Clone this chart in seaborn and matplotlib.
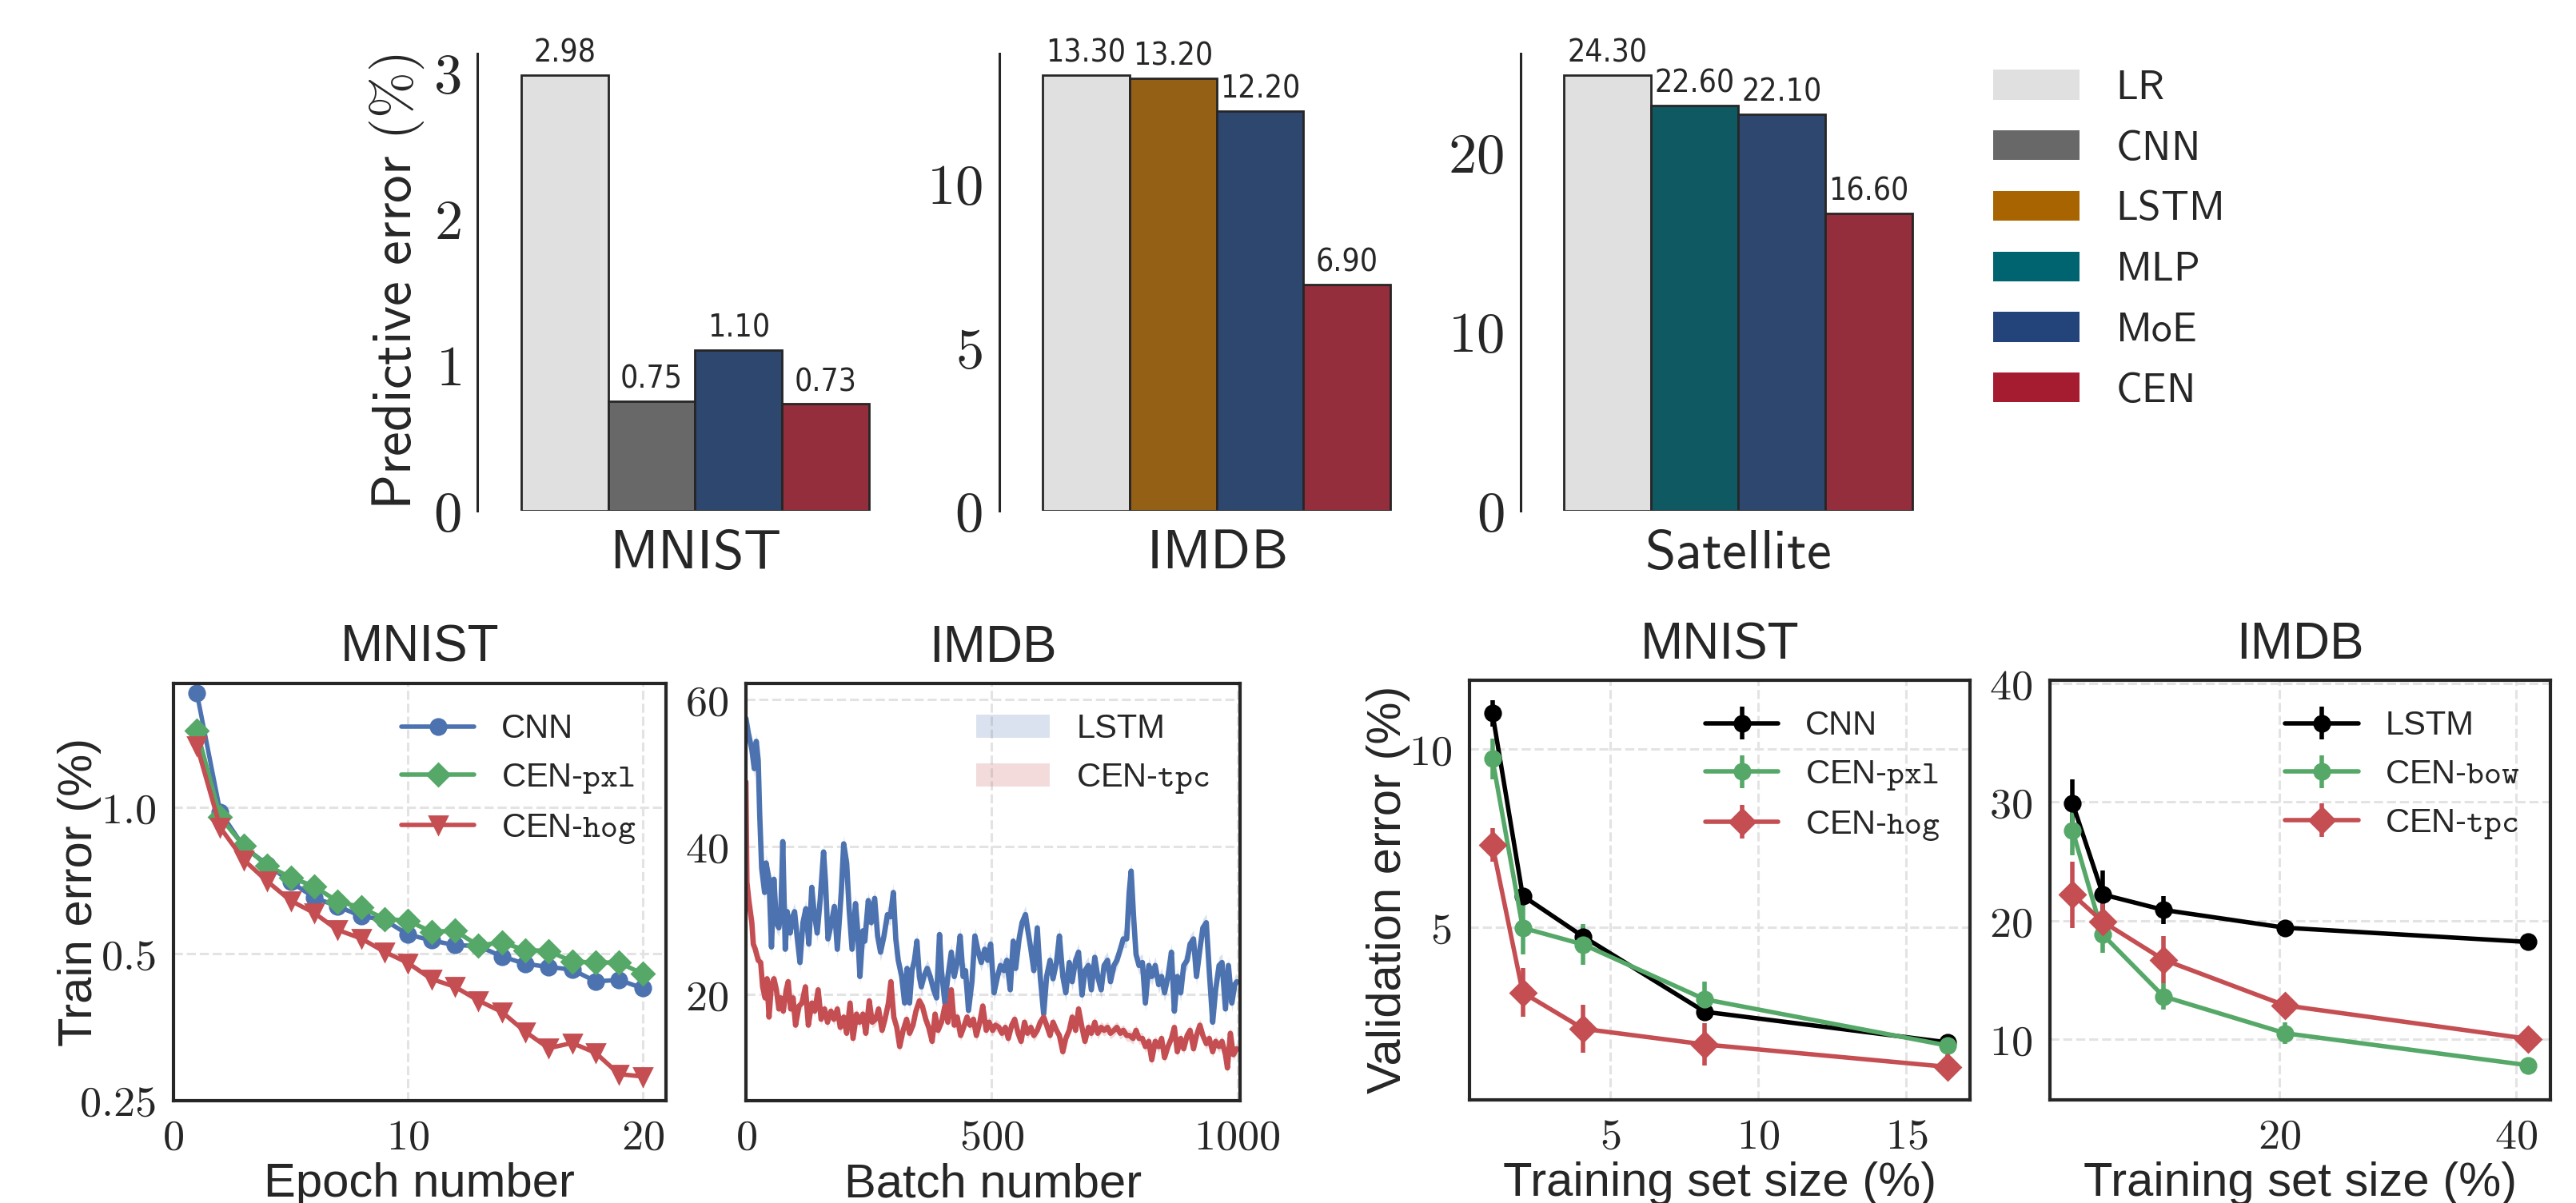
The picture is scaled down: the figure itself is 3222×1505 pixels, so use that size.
import matplotlib
matplotlib.use("Agg")
import matplotlib.pyplot as plt
import numpy as np
import pandas as pd
import seaborn as sns
from matplotlib.patches import Patch
from matplotlib.ticker import FixedLocator, FixedFormatter, NullLocator, FuncFormatter

# ---------------- data: top row (predictive error, %) ----------------
mnist_models = ["LR", "CNN", "MoE", "CEN"]
mnist_err = [2.98, 0.75, 1.10, 0.73]
imdb_models = ["LR", "LSTM", "MoE", "CEN"]
imdb_err = [13.30, 13.20, 12.20, 6.90]
sat_models = ["LR", "MLP", "MoE", "CEN"]
sat_err = [24.30, 22.60, 22.10, 16.60]
legend_models = ["LR", "CNN", "LSTM", "MLP", "MoE", "CEN"]
model_colors = ["#e0e0e0", "#686868", "#a86400", "#006470", "#22447a", "#a51c30"]

# ---------------- data: MNIST train error vs epoch ----------------
epochs = list(range(1, 21))
cnn_train = [1.72, 0.978, 0.83, 0.763, 0.703, 0.653, 0.626, 0.598, 0.587, 0.548,
             0.533, 0.521, 0.519, 0.494, 0.477, 0.470, 0.464, 0.439, 0.442, 0.425]
pxl_train = [1.44, 0.955, 0.833, 0.759, 0.718, 0.688, 0.641, 0.623, 0.590, 0.585,
             0.555, 0.558, 0.520, 0.528, 0.509, 0.507, 0.482, 0.480, 0.480, 0.455]
hog_train = [1.34, 0.909, 0.780, 0.705, 0.643, 0.607, 0.560, 0.538, 0.505, 0.479,
             0.444, 0.428, 0.401, 0.380, 0.346, 0.320, 0.328, 0.313, 0.283, 0.280]

# ---------------- data: IMDB train error vs batch ----------------
lstm_batch = [0, 5, 12, 17, 21, 25, 28, 32, 38, 41, 47, 52, 57, 62, 67, 71, 75, 80, 84, 90,
              95, 99, 104, 110, 116, 122, 128, 134, 138, 145, 151, 158, 162, 167, 174, 180, 186, 194, 199, 205,
              210, 216, 223, 227, 232, 238, 242, 249, 255, 262, 268, 274, 281, 288, 294, 300, 305, 310, 317, 323,
              328, 333, 338, 343, 348, 353, 357, 362, 369, 375, 382, 388, 394, 398, 405, 411, 418, 424, 430, 436,
              442, 447, 453, 460, 466, 473, 479, 486, 492, 498, 505, 512, 518, 525, 531, 538, 544, 549, 556, 562,
              569, 573, 580, 586, 593, 599, 606, 612, 619, 625, 632, 638, 645, 651, 658, 664, 671, 677, 684, 690,
              697, 703, 710, 716, 723, 729, 736, 742, 749, 755, 762, 768, 775, 780, 784, 789, 794, 800, 807, 813,
              820, 826, 833, 840, 846, 852, 859, 866, 872, 878, 885, 891, 898, 904, 911, 917, 924, 930, 937, 943,
              950, 956, 963, 969, 976, 982, 989, 995, 999]
lstm_batch_err = [57.4, 55.4, 53.2, 50.6, 54.3, 51.7, 44.4, 37.1, 33.8, 37.8,
                  35.6, 26.4, 35.6, 29.7, 29.0, 31.2, 40.7, 26.1, 31.2, 28.3,
                  30.5, 31.2, 27.9, 24.3, 29.7, 31.6, 26.8, 34.5, 31.6, 28.3,
                  32.7, 39.3, 35.2, 27.5, 29.7, 31.9, 26.1, 33.8, 40.4, 37.8,
                  31.6, 26.1, 32.3, 29.0, 22.4, 28.6, 27.2, 32.7, 29.7, 33.0,
                  27.9, 25.7, 27.9, 30.8, 30.5, 33.8, 27.5, 24.6, 22.4, 18.8,
                  23.5, 18.8, 23.2, 24.6, 27.2, 22.4, 21.0, 22.4, 23.5, 22.4,
                  20.6, 19.5, 28.1, 23.2, 18.8, 22.4, 25.7, 22.4, 24.3, 27.9,
                  22.4, 23.2, 17.8, 21.7, 27.9, 25.7, 24.3, 26.1, 24.6, 26.8,
                  20.2, 22.4, 23.9, 23.2, 24.6, 20.6, 27.2, 23.5, 27.5, 29.7,
                  30.8, 29.0, 26.1, 23.2, 29.0, 22.4, 17.3, 22.4, 24.6, 22.1,
                  24.3, 27.9, 22.4, 20.2, 24.3, 21.7, 24.6, 25.7, 19.9, 23.2,
                  23.9, 20.6, 25.0, 22.4, 20.6, 23.9, 24.6, 21.7, 23.9, 24.6,
                  26.1, 27.5, 27.5, 33.8, 36.7, 30.5, 25.4, 23.9, 24.3, 18.8,
                  23.9, 22.4, 23.9, 21.3, 22.4, 20.2, 22.4, 25.7, 17.7, 22.4,
                  20.2, 23.9, 24.6, 26.8, 27.5, 22.4, 26.1, 29.0, 29.7, 23.2,
                  16.2, 20.6, 23.9, 24.3, 18.0, 23.9, 18.8, 21.3, 21.7]
tpc_batch = [0, 2, 6, 12, 15, 19, 25, 30, 34, 39, 43, 47, 52, 57, 62, 67, 71, 76, 82, 86,
             91, 96, 101, 108, 114, 121, 127, 134, 140, 147, 153, 160, 166, 173, 179, 186, 192, 199, 205, 212,
             218, 225, 231, 238, 244, 251, 257, 264, 270, 277, 283, 290, 295, 301, 307, 313, 320, 327, 333, 340,
             346, 353, 359, 366, 372, 379, 385, 391, 398, 405, 411, 418, 424, 430, 437, 443, 450, 456, 463, 469,
             476, 482, 489, 495, 502, 508, 515, 521, 528, 534, 541, 547, 554, 560, 567, 573, 580, 586, 593, 599,
             606, 612, 619, 625, 632, 638, 645, 651, 658, 664, 671, 677, 684, 690, 697, 703, 710, 716, 723, 729,
             736, 742, 749, 755, 762, 768, 775, 781, 788, 794, 800, 807, 813, 820, 826, 833, 840, 846, 852, 859,
             866, 872, 878, 885, 891, 898, 904, 911, 917, 924, 930, 937, 943, 950, 956, 963, 969, 976, 980, 986,
             992, 999]
tpc_batch_err = [48.8, 35.2, 32.7, 29.7, 26.8, 26.1, 24.6, 24.3, 21.0, 19.5,
                 22.1, 16.9, 21.3, 22.1, 20.6, 18.0, 19.5, 17.7, 20.6, 21.7,
                 18.0, 19.5, 15.8, 18.4, 18.8, 21.0, 15.8, 18.8, 17.7, 20.6,
                 16.6, 18.0, 16.2, 17.7, 16.6, 18.0, 15.5, 16.9, 14.7, 18.8,
                 14.0, 17.3, 16.2, 17.3, 14.7, 19.1, 16.2, 16.6, 18.0, 15.1,
                 16.6, 18.8, 21.7, 16.9, 15.5, 12.9, 15.1, 16.6, 14.7, 15.8,
                 17.7, 19.1, 18.4, 16.6, 15.5, 13.6, 17.3, 15.1, 16.2, 18.4,
                 16.2, 20.6, 15.8, 16.9, 14.4, 15.5, 16.9, 15.8, 16.6, 14.4,
                 16.2, 18.4, 15.1, 16.2, 15.1, 15.8, 15.5, 14.7, 15.5, 14.0,
                 15.8, 16.6, 14.7, 13.6, 16.2, 14.7, 15.5, 14.4, 15.1, 16.2,
                 16.9, 15.8, 14.4, 16.2, 15.1, 14.4, 12.2, 14.0, 15.1, 16.9,
                 15.1, 18.0, 15.5, 13.6, 15.5, 14.7, 16.2, 14.7, 15.5, 15.1,
                 15.5, 14.7, 15.1, 15.5, 14.7, 15.1, 14.4, 14.4, 14.0, 15.1,
                 14.0, 14.0, 12.9, 13.6, 11.1, 13.6, 12.9, 14.0, 11.4, 12.9,
                 14.0, 15.5, 12.2, 14.0, 12.6, 14.4, 15.1, 12.6, 14.4, 15.8,
                 14.4, 13.3, 14.0, 12.2, 13.6, 12.9, 13.6, 11.8, 10.0, 14.7,
                 11.8, 12.6]
lstm_band = 1.2
tpc_band = 0.8

# ---------------- data: validation error vs training set size ----------------
mnist_sizes = [1.024, 2.048, 4.096, 8.192, 16.384]
cnn_val = [11.02, 5.88, 4.73, 2.62, 1.76]
cnn_val_sd = [0.37, 0.20, 0.30, 0.20, 0.15]
pxl_val = [9.73, 4.98, 4.51, 2.97, 1.67]
pxl_val_sd = [0.58, 0.74, 0.58, 0.50, 0.30]
hog_val = [7.31, 3.16, 2.14, 1.70, 1.07]
hog_val_sd = [0.48, 0.68, 0.68, 0.59, 0.34]

imdb_sizes = [2.56, 5.12, 10.24, 20.48, 40.96]
lstm_val = [29.9, 22.2, 20.9, 19.4, 18.2]
lstm_val_sd = [2.0, 2.0, 1.2, 0.3, 0.3]
bow_val = [27.6, 18.8, 13.6, 10.5, 7.8]
bow_val_sd = [2.1, 1.5, 1.1, 0.9, 0.4]
tpc_val = [22.2, 19.9, 16.7, 12.85, 10.03]
tpc_val_sd = [2.8, 1.6, 2.0, 0.9, 0.9]

# ---------------- style ----------------
sns.set_theme(style="white")
plt.rcParams["font.family"] = ["Liberation Sans", "DejaVu Sans"]
plt.rcParams["mathtext.fontset"] = "cm"
plt.rcParams["axes.edgecolor"] = "#262626"
plt.rcParams["text.color"] = "#262626"
plt.rcParams["xtick.color"] = "#262626"
plt.rcParams["ytick.color"] = "#262626"

BLUE, GREEN, RED = "#4c72b0", "#55a868", "#c44e52"
W, H = 3223, 1505
fig = plt.figure(figsize=(W / 200, H / 200), dpi=200)

def rect(x0, y0, x1, y1):
    return [x0 / W, 1 - y1 / H, (x1 - x0) / W, (y1 - y0) / H]

palette = dict(zip(legend_models, model_colors))
mathfmt = FuncFormatter(lambda v, p: "$%g$" % v)

# ---------------- top row: bar charts ----------------
top_specs = [("MNIST", mnist_models, mnist_err, [0, 1, 2, 3], 597.5),
             ("IMDB", imdb_models, imdb_err, [0, 5, 10], 1249.5),
             ("Satellite", sat_models, sat_err, [0, 10, 20], 1902)]
for i, (name, models, errs, yt, x0) in enumerate(top_specs):
    ax = fig.add_axes(rect(x0, 66.6, x0 + 544, 639))
    df = pd.DataFrame({"dataset": [name] * len(models), "model": models, "err": errs})
    sns.barplot(data=df, x="dataset", y="err", hue="model", hue_order=models,
                palette=palette, edgecolor="#262626", linewidth=1.0,
                legend=False, ax=ax)
    for cont, v in zip(ax.containers, errs):
        ax.bar_label(cont, labels=["%.2f" % v], padding=3, fontsize=14,
                     color="#262626", fontstretch="condensed",
                     family=["Liberation Sans Narrow", "DejaVu Sans"])
    ax.set_xlim(-0.5, 0.5)
    ax.set_ylim(0, max(errs) * 1.05)
    ax.set_yticks(yt)
    ax.yaxis.set_major_formatter(mathfmt)
    ax.set_xticks([0])
    ax.set_xticklabels([r"$\mathsf{%s}$" % name])
    ax.set_xlabel("")
    ax.tick_params(axis="y", length=0, pad=7.5, labelsize=25.5)
    ax.tick_params(axis="x", length=0, pad=8, labelsize=25)
    sns.despine(ax=ax, top=True, right=True, bottom=True, left=False)
    ax.spines["left"].set_linewidth(1.1)
    ax.spines["left"].set_color("#262626")
    if i == 0:
        ax.set_ylabel(r"$\mathsf{Predictive\ error\ (\%)}$", fontsize=25)
        ax.yaxis.set_label_coords(-0.119, 0.5)
    else:
        ax.set_ylabel("")

handles = [Patch(facecolor=c, edgecolor="none") for c in model_colors]
fig.legend(handles, [r"$\mathsf{%s}$" % m for m in legend_models],
           loc="upper left", bbox_to_anchor=(2493 / W, 1 - 86 / H),
           frameon=False, fontsize=18.5, handlelength=2.1, handleheight=0.74,
           handletextpad=0.87, labelspacing=0.52, borderpad=0, borderaxespad=0)

# ---------------- bottom row ----------------
def style_bottom(ax):
    ax.grid(True, ls="--", color="#e3e3e3", lw=1.1)
    ax.set_axisbelow(True)
    for s in ax.spines.values():
        s.set_visible(True)
        s.set_color("#262626")
        s.set_linewidth(1.5)
    ax.tick_params(length=0, pad=8, labelsize=19.5)

LEG = dict(loc="upper right", frameon=False, fontsize=15, handlelength=2.2,
           labelspacing=0.5, handletextpad=0.8)
XLPAD = 2

# (1) MNIST train error
ax1 = fig.add_axes(rect(216.8, 854.6, 833, 1376.6))
ax1.plot(epochs, cnn_train, color=BLUE, marker="o", ms=7, lw=2, label="CNN")
ax1.plot(epochs, pxl_train, color=GREEN, marker="D", ms=7, lw=2, label=r"CEN-$\mathtt{pxl}$")
ax1.plot(epochs, hog_train, color=RED, marker="v", ms=8, lw=2, label=r"CEN-$\mathtt{hog}$")
ax1.set_yscale("log")
ax1.set_ylim(0.25, 1.8)
ax1.set_xlim(0, 21)
ax1.yaxis.set_major_locator(FixedLocator([0.25, 0.5, 1.0]))
ax1.yaxis.set_major_formatter(FixedFormatter(["$0.25$", "$0.5$", "$1.0$"]))
ax1.yaxis.set_minor_locator(NullLocator())
ax1.set_xticks([0, 10, 20])
ax1.xaxis.set_major_formatter(mathfmt)
style_bottom(ax1)
ax1.set_title("MNIST", fontsize=23, pad=9.6)
ax1.set_xlabel("Epoch number", fontsize=21.5, labelpad=XLPAD)
ax1.set_ylabel("Train error (%)", fontsize=21.5)
ax1.yaxis.set_label_coords(-0.146, 0.5)
ax1.legend(**LEG)

# (2) IMDB train error vs batch
ax2 = fig.add_axes(rect(933, 854.6, 1550.6, 1376.6))
lb = np.array(lstm_batch_err)
tb = np.array(tpc_batch_err)
h1 = ax2.fill_between(lstm_batch, lb - lstm_band, lb + lstm_band, color=BLUE, alpha=0.2, lw=0, label="LSTM")
ax2.plot(lstm_batch, lstm_batch_err, color=BLUE, lw=2.4)
h2 = ax2.fill_between(tpc_batch, tb - tpc_band, tb + tpc_band, color=RED, alpha=0.2, lw=0, label=r"CEN-$\mathtt{tpc}$")
ax2.plot(tpc_batch, tpc_batch_err, color=RED, lw=2.4)
ax2.set_xlim(0, 1005)
ax2.set_ylim(5.6, 62.2)
ax2.set_xticks([0, 500, 1000])
ax2.set_yticks([20, 40, 60])
ax2.xaxis.set_major_formatter(mathfmt)
ax2.yaxis.set_major_formatter(mathfmt)
style_bottom(ax2)
ax2.set_title("IMDB", fontsize=23, pad=9.6)
ax2.set_xlabel("Batch number", fontsize=21.5, labelpad=XLPAD)
ax2.legend(handles=[h1, h2], **LEG)

# (3) MNIST validation error
ax3 = fig.add_axes(rect(1838, 850.7, 2464, 1375.6))
ax3.errorbar(mnist_sizes, cnn_val, yerr=cnn_val_sd, color="black", marker="o", ms=7, lw=2, elinewidth=2, capsize=0, label="CNN")
ax3.errorbar(mnist_sizes, pxl_val, yerr=pxl_val_sd, color=GREEN, marker="o", ms=7, lw=2, elinewidth=2, capsize=0, label=r"CEN-$\mathtt{pxl}$")
ax3.errorbar(mnist_sizes, hog_val, yerr=hog_val_sd, color=RED, marker="D", ms=8, lw=2, elinewidth=2, capsize=0, label=r"CEN-$\mathtt{hog}$")
ax3.set_xlim(0.25, 17.15)
ax3.set_ylim(0.15, 11.95)
ax3.set_xticks([5, 10, 15])
ax3.set_yticks([5, 10])
ax3.xaxis.set_major_formatter(mathfmt)
ax3.yaxis.set_major_formatter(mathfmt)
style_bottom(ax3)
ax3.set_title("MNIST", fontsize=23, pad=9.6)
ax3.set_xlabel("Training set size (%)", fontsize=21.5, labelpad=XLPAD)
ax3.set_ylabel("Validation error (%)", fontsize=21.5)
ax3.yaxis.set_label_coords(-0.118, 0.5)
ax3.legend(**LEG)

# (4) IMDB validation error
ax4 = fig.add_axes(rect(2564, 850.7, 3189.6, 1375.6))
ax4.errorbar(imdb_sizes, lstm_val, yerr=lstm_val_sd, color="black", marker="o", ms=7, lw=2, elinewidth=2, capsize=0, label="LSTM")
ax4.errorbar(imdb_sizes, bow_val, yerr=bow_val_sd, color=GREEN, marker="o", ms=7, lw=2, elinewidth=2, capsize=0, label=r"CEN-$\mathtt{bow}$")
ax4.errorbar(imdb_sizes, tpc_val, yerr=tpc_val_sd, color=RED, marker="D", ms=8, lw=2, elinewidth=2, capsize=0, label=r"CEN-$\mathtt{tpc}$")
ax4.set_xlim(0.65, 42.85)
ax4.set_ylim(4.9, 40.3)
ax4.set_xticks([20, 40])
ax4.set_yticks([10, 20, 30, 40])
ax4.xaxis.set_major_formatter(mathfmt)
ax4.yaxis.set_major_formatter(mathfmt)
style_bottom(ax4)
ax4.set_title("IMDB", fontsize=23, pad=9.6)
ax4.set_xlabel("Training set size (%)", fontsize=21.5, labelpad=XLPAD)
ax4.legend(**LEG)

fig.savefig("out.png", dpi=200)
